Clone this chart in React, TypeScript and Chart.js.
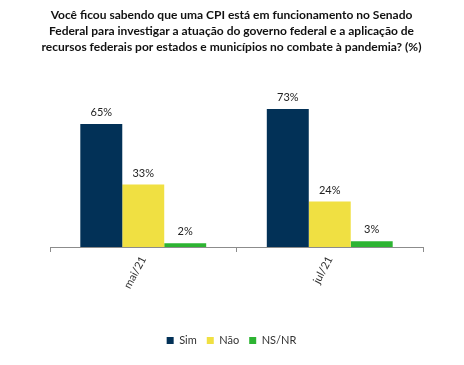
import React, { useEffect, useRef } from "react";
import { Chart, registerables } from "chart.js";

Chart.register(...registerables);

const categories = ["mai/21", "jul/21"];
const simValues = [65, 73];
const naoValues = [33, 24];
const nsnrValues = [2, 3];
const seriesLabels = ["Sim", "Não", "NS/NR"];
const titleLines = [
  "Você ficou sabendo que uma CPI está em funcionamento no Senado",
  "Federal para investigar a atuação do governo federal e a aplicação de",
  "recursos federais por estados e municípios no combate à pandemia? (%)",
];

const FONT = "Lato, 'Open Sans', sans-serif";

const valueLabels = {
  id: "valueLabels",
  afterDatasetsDraw(chart: any) {
    const ctx = chart.ctx;
    ctx.save();
    ctx.font = `11px ${FONT}`;
    ctx.fillStyle = "#222";
    ctx.textAlign = "center";
    ctx.textBaseline = "bottom";
    chart.data.datasets.forEach((ds: any, i: number) => {
      const meta = chart.getDatasetMeta(i);
      meta.data.forEach((bar: any, j: number) => {
        ctx.fillText(`${ds.data[j]}%`, bar.x, bar.y - 6);
      });
    });
    ctx.restore();
  },
};

export default function App() {
  const ref = useRef<HTMLCanvasElement>(null);
  useEffect(() => {
    const chart = new Chart(ref.current!, {
      type: "bar",
      data: {
        labels: categories,
        datasets: [
          { label: seriesLabels[0], data: simValues, backgroundColor: "#023157" },
          { label: seriesLabels[1], data: naoValues, backgroundColor: "#F0E042" },
          { label: seriesLabels[2], data: nsnrValues, backgroundColor: "#2DB432" },
        ],
      },
      options: {
        animation: false,
        responsive: false,
        layout: { padding: { left: 40, right: 41, bottom: 9 } },
        datasets: { bar: { barPercentage: 1, categoryPercentage: 0.675 } },
        scales: {
          x: {
            grid: { drawOnChartArea: false, drawTicks: true, tickLength: 5, color: "#8c8c8c" },
            border: { display: true, color: "#8c8c8c" },
            ticks: {
              minRotation: 62,
              maxRotation: 62,
              color: "#333",
              font: { family: FONT, size: 11 },
              padding: 2,
            },
            afterFit(scale: any) {
              scale.height = 78;
            },
          },
          y: {
            display: true,
            min: 0,
            max: 100,
            grid: { display: false },
            border: { display: false },
            ticks: { display: false },
            afterFit(scale: any) {
              scale.width = 10;
            },
          },
        },
        plugins: {
          title: {
            display: true,
            text: titleLines,
            color: "#111",
            font: { family: FONT, size: 12, weight: "bold", lineHeight: 1.33 },
            padding: { top: 7, bottom: 3 },
          },
          legend: {
            position: "bottom",
            labels: {
              boxWidth: 7,
              boxHeight: 7,
              color: "#333",
              font: { family: FONT, size: 11 },
              padding: 10,
            },
          },
          tooltip: { enabled: false },
        },
      },
      plugins: [valueLabels],
    } as any);
    return () => chart.destroy();
  }, []);
  return (
    <div style={{ position: "absolute", left: 0, top: 0, width: 464, height: 365, background: "#fff" }}>
      <canvas ref={ref} width={464} height={365} />
    </div>
  );
}
